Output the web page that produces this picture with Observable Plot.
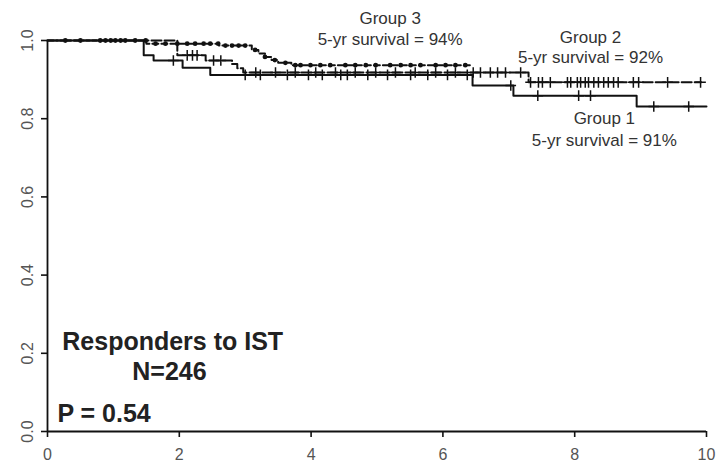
<!DOCTYPE html>
<html><head><meta charset="utf-8">
<script src="https://cdn.jsdelivr.net/npm/d3@7"></script>
<script src="https://cdn.jsdelivr.net/npm/@observablehq/plot@0.6"></script>
<style>body{margin:0;background:#fff}</style>
</head><body><div id="chart"></div>
<script>
// Kaplan-Meier step data (time in years, survival)
const g1Times = [0, 1.46, 1.61, 2.05, 2.47, 6.45, 7.07, 8.94, 10.0];
const g1Surv  = [1, 0.962, 0.949, 0.930, 0.912, 0.885, 0.859, 0.831, 0.831];
const g2Times = [0, 1.97, 2.40, 2.80, 2.88, 2.97, 7.30, 9.92];
const g2Surv  = [1, 0.962, 0.949, 0.940, 0.929, 0.918, 0.893, 0.893];
const g3Times = [0, 1.50, 2.60, 3.10, 3.20, 3.30, 3.40, 3.50, 3.70, 6.45];
const g3Surv  = [1, 0.992, 0.987, 0.976, 0.967, 0.958, 0.950, 0.943, 0.937, 0.937];

// censoring times
const g1Cens = [1.91, 3.0, 3.23, 3.64, 3.96, 4.17, 4.45, 4.55, 4.86, 5.16, 5.51, 5.77, 6.07, 6.37, 7.03, 7.44, 8.06, 8.24, 9.2, 9.73];
const g2Cens = [2.12, 2.2, 2.27, 2.52, 2.63, 3.16, 3.46, 3.76, 4.07, 4.37, 4.67, 4.98, 5.28, 5.58, 5.89, 6.19, 6.46, 6.57, 6.72, 6.83, 6.95, 7.18,
  7.33, 7.45, 7.51, 7.63, 7.89, 7.94, 8.04, 8.09, 8.16, 8.21, 8.29, 8.36, 8.44, 8.51, 8.59, 8.66, 8.89, 8.97, 9.41, 9.91];
const g3Cens = [0.27, 0.5, 0.8, 0.88, 0.96, 1.03, 1.11, 1.18, 1.33, 1.49, 1.64, 1.79, 1.97, 2.12, 2.24, 2.37, 2.47, 2.59, 2.7, 2.8, 2.9, 3.0,
  3.15, 3.3, 3.45, 3.61, 3.76, 3.84, 3.99, 4.14, 4.29, 4.52, 4.67, 4.83, 4.98, 5.2, 5.36, 5.51, 5.66, 5.89, 6.04, 6.19, 6.34];

const xTicks = [0, 2, 4, 6, 8, 10];
const yTicks = [0, 0.2, 0.4, 0.6, 0.8, 1.0];

// annotations
const groupLabels = [
  {t: 5.2, s: 1.056, text: "Group 3"},
  {t: 5.2, s: 1.003, text: "5-yr survival = 94%"},
  {t: 8.24, s: 1.008, text: "Group 2"},
  {t: 8.24, s: 0.957, text: "5-yr survival = 92%"},
  {t: 8.45, s: 0.800, text: "Group 1"},
  {t: 8.45, s: 0.744, text: "5-yr survival = 91%"}
];
const boldLabels = [
  {t: 1.9, s: 0.228, text: "Responders to IST"},
  {t: 1.85, s: 0.151, text: "N=246"}
];
const pLabel = [{t: 0.15, s: 0.046, text: "P = 0.54"}];

const steps = (T, S) => T.map((t, i) => ({t, s: S[i]}));
function survAt(T, S, t) {
  let v = S[0];
  for (let i = 0; i < T.length; i++) if (T[i] <= t) v = S[i];
  return v;
}
const cens = (C, T, S) => C.map(t => ({t, s: survAt(T, S, t)}));

const ink = "#111";
const chart = Plot.plot({
  width: 720, height: 462,
  marginLeft: 47, marginRight: 14, marginTop: 40, marginBottom: 31,
  style: {fontFamily: "'Liberation Sans', Arial, sans-serif", fontSize: "16px", color: "#555", background: "#fff"},
  x: {domain: [0, 10]},
  y: {domain: [0, 1]},
  marks: [
    Plot.axisX({ticks: xTicks, tickSize: 6, tickPadding: 11, label: null, fontSize: 16, stroke: ink, strokeWidth: 1.6}),
    Plot.axisY({ticks: yTicks, tickSize: 6, tickFormat: () => "", label: null, stroke: ink, strokeWidth: 1.6}),
    Plot.text(yTicks, {x: () => 0, y: d => d, text: d => d.toFixed(1), dx: -20, rotate: -90, textAnchor: "middle", lineAnchor: "middle", fontSize: 16, fill: "#555"}),
    Plot.ruleX([0], {stroke: ink, strokeWidth: 1.8}),
    Plot.ruleY([0], {stroke: ink, strokeWidth: 1.8}),
    Plot.line(steps(g1Times, g1Surv), {x: "t", y: "s", curve: "step-after", stroke: ink, strokeWidth: 2}),
    Plot.line(steps(g2Times, g2Surv), {x: "t", y: "s", curve: "step-after", stroke: ink, strokeWidth: 2, strokeDasharray: "10,3"}),
    Plot.line(steps(g3Times, g3Surv), {x: "t", y: "s", curve: "step-after", stroke: ink, strokeWidth: 2, strokeDasharray: "6,3"}),
    Plot.dot(cens(g1Cens, g1Times, g1Surv), {x: "t", y: "s", symbol: "plus", r: 3.5, stroke: ink, strokeWidth: 1.5}),
    Plot.dot(cens(g2Cens, g2Times, g2Surv), {x: "t", y: "s", symbol: "plus", r: 3.5, stroke: ink, strokeWidth: 1.5}),
    Plot.dot(cens(g3Cens, g3Times, g3Surv), {x: "t", y: "s", r: 2.4, fill: ink, stroke: "none"}),
    Plot.text(groupLabels, {x: "t", y: "s", text: "text", fontSize: 17, fill: "#333", textAnchor: "middle", clip: false}),
    Plot.text(boldLabels, {x: "t", y: "s", text: "text", fontSize: 25, fontWeight: "bold", fill: "#222", textAnchor: "middle"}),
    Plot.text(pLabel, {x: "t", y: "s", text: "text", fontSize: 25, fontWeight: "bold", fill: "#222", textAnchor: "start"})
  ]
});
document.getElementById("chart").appendChild(chart);
</script>
</body></html>
